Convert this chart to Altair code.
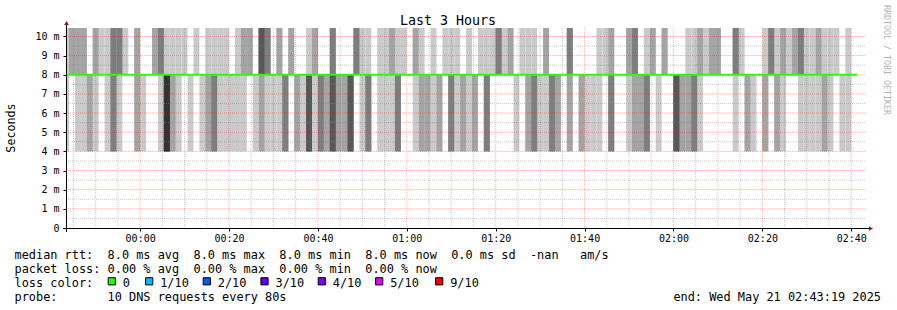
import altair as alt
import pandas as pd

# ---------------- data ----------------
# One entry per 80 s probe slot (first slot starts 23:42:40, partly off-canvas).
# hi_counts: how many of the 10 DNS replies sit at the top of the graph (>= 10.4 ms)
# lo_counts: how many of the 10 replies sit at ~4 ms; the rest are at the ~8 ms median
hi_counts = [
    1, 2, 2, 2, 0, 2, 1, 1, 3, 3, 1, 0, 2, 0, 0, 2, 3, 1, 1, 1,
    1, 0, 1, 0, 1, 1, 1, 1, 0, 1, 2, 2, 0, 4, 3, 0, 2, 0, 2, 0,
    0, 1, 2, 0, 0, 3, 0, 0, 0, 3, 1, 1, 0, 1, 1, 2, 1, 1, 0, 2,
    1, 0, 1, 0, 1, 1, 1, 0, 1, 0, 1, 1, 1, 3, 1, 2, 0, 1, 1, 1,
    0, 2, 0, 0, 0, 3, 0, 0, 0, 0, 1, 1, 2, 0, 0, 2, 3, 0, 1, 2,
    0, 2, 0, 0, 0, 1, 1, 2, 1, 2, 2, 0, 0, 3, 1, 0, 0, 0, 1, 3,
    1, 2, 1, 2, 3, 1, 1, 2, 1, 1, 1, 0, 1, 0,
]
lo_counts = [
    1, 0, 1, 1, 2, 1, 0, 1, 3, 1, 0, 0, 2, 1, 0, 0, 1, 5, 2, 1,
    0, 1, 0, 1, 2, 3, 1, 1, 1, 1, 1, 0, 1, 2, 1, 1, 1, 3, 0, 2,
    1, 4, 1, 3, 2, 4, 2, 2, 4, 0, 1, 3, 0, 1, 1, 1, 3, 0, 0, 1,
    2, 2, 1, 2, 0, 3, 1, 2, 1, 2, 0, 3, 0, 0, 0, 0, 1, 0, 2, 3,
    1, 1, 3, 2, 0, 2, 0, 2, 1, 1, 1, 0, 3, 0, 0, 1, 2, 2, 3, 0,
    1, 0, 0, 4, 2, 2, 3, 1, 0, 0, 0, 0, 0, 1, 0, 2, 1, 0, 2, 0,
    2, 1, 0, 0, 1, 1, 1, 1, 2, 1, 0, 1, 1, 0,
]
median_ms = [
    8.0, 8.0, 8.0, 8.0, 8.0, 8.0, 8.0, 8.0, 8.0, 8.0, 8.0, 8.0, 8.0, 8.0, 8.0, 8.0, 8.0, 8.0, 8.0, 8.0,
    8.0, 8.0, 8.0, 8.0, 8.0, 8.0, 8.0, 8.0, 8.0, 8.0, 8.0, 8.0, 8.0, 8.0, 8.0, 8.0, 8.0, 8.0, 8.0, 8.0,
    8.0, 8.0, 8.0, 8.0, 8.0, 8.0, 8.0, 8.0, 8.0, 8.0, 8.0, 8.0, 8.0, 8.0, 8.0, 8.0, 8.0, 8.0, 8.0, 8.0,
    8.0, 8.0, 8.0, 8.0, 8.0, 8.0, 8.0, 8.0, 8.0, 8.0, 8.0, 8.0, 8.0, 8.0, 8.0, 8.0, 8.0, 8.0, 8.0, 8.0,
    8.0, 8.0, 8.0, 8.0, 8.0, 8.0, 8.0, 8.0, 8.0, 8.0, 8.0, 8.0, 8.0, 8.0, 8.0, 8.0, 8.0, 8.0, 8.0, 8.0,
    8.0, 8.0, 8.0, 8.0, 8.0, 8.0, 8.0, 8.0, 8.0, 8.0, 8.0, 8.0, 8.0, 8.0, 8.0, 8.0, 8.0, 8.0, 8.0, 8.0,
    8.0, 8.0, 8.0, 8.0, 8.0, 8.0, 8.0, 8.0, 8.0, 8.0, 8.0, 8.0, 8.0, 8.0,
]
PING_LO = 4.0
PING_MID = 8.0
PING_HI = 10.6
FIRST_SLOT_MIN = -17 - 1 / 3.0   # 23:42:40 in minutes relative to 00:00
STEP_MIN = 80 / 60.0             # 80 s probe step

x_ticks = [0, 20, 40, 60, 80, 100, 120, 140, 160]
y_ticks = [0, 1, 2, 3, 4, 5, 6, 7, 8, 9, 10]
loss_labels = ["0", "1/10", "2/10", "3/10", "4/10", "5/10", "9/10"]
loss_colors = ["#26ff00", "#00b8ff", "#0059ff", "#5e00ff", "#7e00ff", "#dd00ff", "#ff0000"]
smoke_shades = ["#cacaca", "#a4a4a4", "#7e7e7e", "#585858", "#323232"]

legend_rows = [
    "median rtt:  8.0 ms avg  8.0 ms max  8.0 ms min  8.0 ms now  0.0 ms sd  -nan   am/s",
    "packet loss: 0.00 % avg  0.00 % max  0.00 % min  0.00 % now",
    "loss color:",
    "probe:       10 DNS requests every 80s",
]
end_text = "end: Wed May 21 02:43:19 2025"
title_text = "Last 3 Hours"
ylabel_text = "Seconds"
watermark = "RRDTOOL / TOBI OETIKER"

# ---------------- tables ----------------
smoke_rows = []
med_rows = []
for i, (nh, nl) in enumerate(zip(hi_counts, lo_counts)):
    t0 = FIRST_SLOT_MIN + i * STEP_MIN
    t1 = t0 + STEP_MIN
    med_rows.append({"t0": t0, "t1": t1, "median": median_ms[i]})
    for b in range(1, 6):
        lo = PING_LO if b <= nl else PING_MID
        hi = PING_HI if b <= nh else PING_MID
        if hi > lo:
            smoke_rows.append({"t0": t0, "t1": t1, "lo": lo, "hi": hi, "band": b})
smoke = pd.DataFrame(smoke_rows).sort_values("band", kind="stable")
med = pd.DataFrame(med_rows)

minor_x = [m for m in range(-15, 165, 5) if m % 20 != 0]
minor_y = [v / 2 for v in range(1, 21) if v % 2 == 1]
major_y = [v for v in y_ticks if v > 0]

X0, X1 = -16 - 41 / 60.0, 163 + 19 / 60.0
xs = alt.Scale(domain=[X0, X1], nice=False, zero=False)
ys = alt.Scale(domain=[0, 10.44], nice=False, zero=False)
W, H = 800, 200
MONO = "DejaVu Sans Mono"

x_label_expr = ("(floor(datum.value/60) < 10 ? '0' : '') + floor(datum.value/60) + ':' + "
                "(datum.value % 60 < 10 ? '0' : '') + (datum.value % 60)")
y_label_expr = "datum.value == 0 ? '0\u00a0\u00a0' : datum.value + '\u00a0m'"

X_AXIS = alt.Axis(
    values=x_ticks, labelExpr=x_label_expr, grid=False, domain=False,
    ticks=True, tickSize=3, tickColor="#000000", labelPadding=2,
    labelFont=MONO, labelFontSize=10, labelColor="#000000", title=None,
    labelFlush=False, labelOverlap=False)
Y_AXIS = alt.Axis(
    values=y_ticks, labelExpr=y_label_expr, grid=False, domain=False,
    ticks=True, tickSize=3, tickColor="#000000", labelPadding=4,
    labelFont=MONO, labelFontSize=10, labelColor="#000000", title=None,
    labelOverlap=False, labelFlush=False)

smoke_layer = alt.Chart(smoke).mark_rect(clip=True, strokeWidth=0).encode(
    x=alt.X("t0:Q", scale=xs, axis=X_AXIS),
    x2="t1:Q",
    y=alt.Y("lo:Q", scale=ys, axis=Y_AXIS),
    y2="hi:Q",
    color=alt.Color("band:O", scale=alt.Scale(domain=[1, 2, 3, 4, 5], range=smoke_shades), legend=None),
)

def vrules(vals, color, op):
    return alt.Chart(pd.DataFrame({"v": vals})).mark_rule(
        color=color, opacity=op, strokeDash=[1, 1], strokeWidth=1).encode(
        x=alt.X("v:Q", scale=xs, axis=X_AXIS), y=alt.value(0), y2=alt.value(H))

def hrules(vals, color, op):
    return alt.Chart(pd.DataFrame({"v": vals})).mark_rule(
        color=color, opacity=op, strokeDash=[1, 1], strokeWidth=1).encode(
        y=alt.Y("v:Q", scale=ys, axis=Y_AXIS), x=alt.value(0), x2=alt.value(W))

grid = [
    vrules(minor_x, "#808080", 0.42),
    hrules(minor_y, "#808080", 0.42),
    vrules(x_ticks, "#ff0000", 0.3),
    hrules(major_y, "#ff0000", 0.3),
]

median_layer = alt.Chart(med).mark_rule(clip=True, color="#26ff00", strokeWidth=2).encode(
    x=alt.X("t0:Q", scale=xs, axis=X_AXIS), x2="t1:Q",
    y=alt.Y("median:Q", scale=ys, axis=Y_AXIS))

dummy = pd.DataFrame({"a": [0]})

def line(x, x2, y, y2):
    return alt.Chart(dummy).mark_rule(color="#000000", strokeWidth=1).encode(
        x=alt.value(x), x2=alt.value(x2), y=alt.value(y), y2=alt.value(y2))

def arrow(x, y, shape):
    return alt.Chart(dummy).mark_point(shape=shape, filled=True, color="#8b1a1a", size=22, opacity=1).encode(
        x=alt.value(x), y=alt.value(y))

def txt(s, x, y, size=11.9, align="left", baseline="alphabetic", angle=0, color="#000000"):
    return alt.Chart(dummy).mark_text(
        text=s.replace(" ", "\u00a0"), font=MONO, fontSize=size, align=align,
        baseline=baseline, angle=angle, color=color).encode(x=alt.value(x), y=alt.value(y))

axes = [
    line(-3, W + 3, H + 0.5, H + 0.5),
    line(0.5, 0.5, -4, H + 4),
    arrow(W + 5, H + 0.5, "triangle-right"),
    arrow(0.5, -5, "triangle-up"),
]

texts = [
    txt(title_text, 382, -3.5, size=13.3, align="center"),
    txt(ylabel_text, -55, 100, size=11.7, align="center", baseline="middle", angle=270),
    txt(watermark, 820, 32, size=8.3, align="center", baseline="middle", angle=90, color="#b4b4b4"),
]
row_y = [230.5, 244.5, 258.5, 272.5]
for s, yy in zip(legend_rows, row_y):
    texts.append(txt(s, -51.5, yy))
texts.append(txt(end_text, 815, row_y[3], align="right"))

box_x = [45.8, 83.2, 140.8, 198.5, 255.8, 313.2, 373.2]
lab_x = [56.8, 94.2, 151.8, 209.5, 266.8, 324.2, 384.2]
boxes = []
for lab, col, bx, lx in zip(loss_labels, loss_colors, box_x, lab_x):
    boxes.append(alt.Chart(dummy).mark_square(
        color=col, filled=True, stroke="#000000", strokeWidth=1, size=52, opacity=1).encode(
        x=alt.value(bx), y=alt.value(253.3)))
    texts.append(txt(lab, lx, row_y[2]))

chart = alt.layer(smoke_layer, *grid, median_layer, *axes, *boxes, *texts).properties(
    width=W, height=H,
    padding={"left": 66, "top": 28, "right": 31, "bottom": 82},
    autosize=alt.AutoSizeParams(type="none"),
    background="#ffffff",
).configure_view(strokeWidth=0).configure_axis(labelFont=MONO)

chart.save("out.html", embed_options={"renderer": "svg", "actions": False})
